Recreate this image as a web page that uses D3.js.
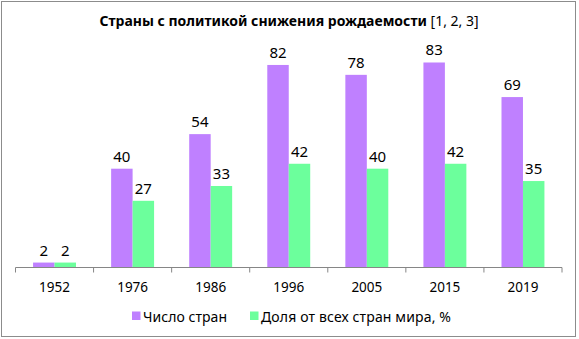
<!DOCTYPE html>
<html><head><meta charset="utf-8">
<script src="https://cdn.jsdelivr.net/npm/d3@7"></script>
<style>body{margin:0;background:#fff}svg{display:block}</style>
</head><body>
<svg id="c" width="579" height="339"></svg>
<script>
const categories = ["1952","1976","1986","1996","2005","2015","2019"];
const seriesNames = ["Число стран","Доля от всех стран мира, %"];
const countValues = [2,40,54,82,78,83,69];
const shareValues = [2,27,33,42,40,42,35];
const colors = ["#bf80ff","#6cff9c"];
const titleBold = "Страны с политикой снижения рождаемости";
const titleRef = " [1, 2, 3]";

const svg = d3.select("#c");
const font = "'Noto Sans', sans-serif";
svg.append("rect").attr("x",1.5).attr("y",1.5).attr("width",574).attr("height",335)
  .attr("fill","#fff").attr("stroke","#8c8c8c").attr("stroke-width",1);

const x = d3.scaleBand().domain(categories).range([15.5,562]).paddingInner(0).paddingOuter(0);
const y = d3.scaleLinear().domain([0,90]).range([267.5,45.2]);
const groupW = x.bandwidth()*0.55;
const barW = groupW/2;
const series = [countValues, shareValues];

series.forEach((vals,si)=>{
  const g = svg.append("g");
  g.selectAll("rect").data(vals).join("rect")
    .attr("x",(d,i)=>x(categories[i]) + (x.bandwidth()-groupW)/2 + si*barW)
    .attr("y",d=>y(d)).attr("width",barW).attr("height",d=>y(0)-y(d))
    .attr("fill",colors[si]);
  g.selectAll("text").data(vals).join("text")
    .attr("x",(d,i)=>x(categories[i]) + (x.bandwidth()-groupW)/2 + si*barW + barW/2)
    .attr("y",d=>y(d)-7)
    .attr("text-anchor","middle").attr("font-family",font).attr("font-size",15).attr("fill","#000")
    .text(d=>d);
});

// axis
const ax = svg.append("g").attr("transform","translate(0,267.5)");
ax.append("line").attr("x1",15.5).attr("x2",562).attr("stroke","#868686");
const ticks = categories.map(c=>x(c)).concat([562]);
ax.selectAll("line.t").data(ticks).join("line").attr("class","t")
  .attr("x1",d=>d).attr("x2",d=>d).attr("y1",0).attr("y2",5).attr("stroke","#868686");
ax.selectAll("text").data(categories).join("text")
  .attr("x",d=>x(d)+x.bandwidth()/2).attr("y",24.5)
  .attr("text-anchor","middle").attr("font-family",font).attr("font-size",13.5).attr("fill","#000")
  .text(d=>d);

// title
const t = svg.append("text").attr("x",289).attr("y",26).attr("text-anchor","middle")
  .attr("font-family",font).attr("font-size",14).attr("fill","#000");
t.append("tspan").attr("font-weight","bold").text(titleBold);
t.append("tspan").text(titleRef);

// legend
const legX = [132,250];
const legW = [84,190];
seriesNames.forEach((n,i)=>{
  svg.append("rect").attr("x",legX[i]).attr("y",311.5).attr("width",8.5).attr("height",8.5).attr("fill",colors[i]);
  svg.append("text").attr("x",legX[i]+11).attr("y",321.5).attr("font-family",font).attr("font-size",14)
    .attr("textLength",legW[i]).attr("lengthAdjust","spacing")
    .attr("fill","#000").text(n);
});
</script>
</body></html>
